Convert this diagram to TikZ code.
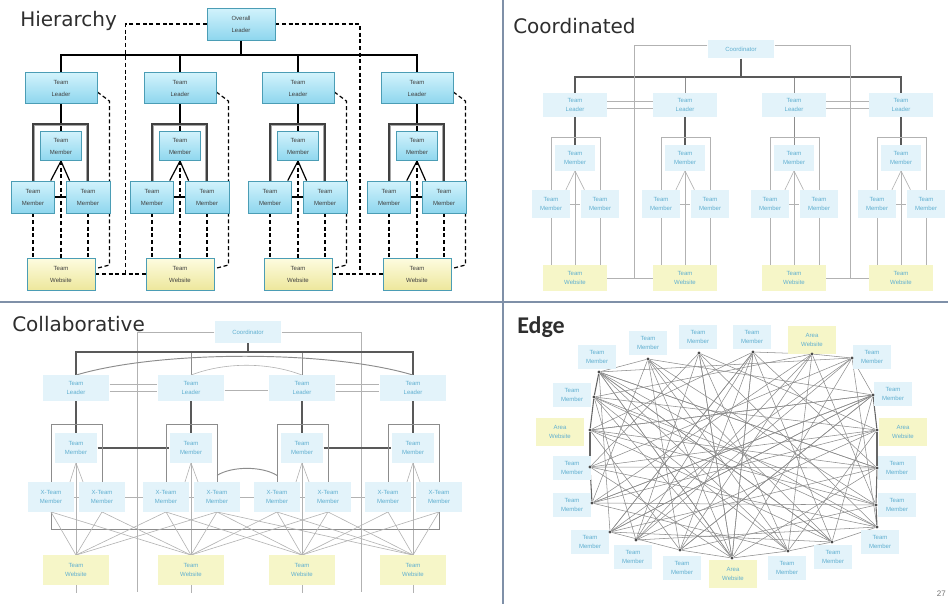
\documentclass[tikz,border=0pt]{standalone}
\usepackage{fontspec}
\setmainfont{Liberation Sans}
\newfontfamily\titlefont{DejaVu Sans}
\newfontfamily\edgefont{Carlito}
\usetikzlibrary{calc}
\pgfdeclarelayer{bg}
\pgfdeclarelayer{paper}
\pgfsetlayers{paper,bg,main}
\definecolor{hcA}{HTML}{D2F3FC}
\definecolor{hcB}{HTML}{8ED6EE}
\definecolor{hbord}{HTML}{4B9DB5}
\definecolor{hyA}{HTML}{FDFCE0}
\definecolor{hyB}{HTML}{EDE79C}
\definecolor{lfill}{HTML}{E3F3FA}
\definecolor{ltext}{HTML}{5FAFD0}
\definecolor{yfill}{HTML}{F6F6C8}
\definecolor{divc}{HTML}{7F90A8}
\definecolor{titc}{HTML}{2E2E2E}
\begin{document}
\begin{tikzpicture}[x=0.75pt,y=-0.75pt,
  hbox/.style={draw=hbord, line width=0.6pt, top color=hcA, bottom color=hcB, align=center, inner sep=0pt, font=\fontsize{4.5}{9}\selectfont, text=black!75},
  hweb/.style={hbox, top color=hyA, bottom color=hyB},
  hline/.style={black, line width=0.9pt},
  hdash/.style={black, line width=0.9pt, dash pattern=on 3pt off 2pt},
  hframe/.style={black!75, line width=1.5pt},
  hframein/.style={black!35, line width=0.7pt},
  lbox/.style={fill=lfill, draw=none, align=center, inner sep=0pt, text=ltext, font=\fontsize{4.5}{7}\selectfont},
  lweb/.style={lbox, fill=yfill},
  cdark/.style={black!65, line width=1pt},
  cmid/.style={black!45, line width=0.7pt},
  lthin/.style={black!30, line width=0.45pt},
  edot/.style={circle, fill=black!70, inner sep=0pt, minimum size=2.5pt},
  eline/.style={black!45, line width=0.4pt},
  ering/.style={black!60, line width=0.8pt},
  ttl/.style={anchor=base west, text=titc, font=\titlefont\fontsize{15}{15}\selectfont, inner sep=0pt},
  divider/.style={divc, line width=1.1pt}]
\useasboundingbox (0,0) rectangle (948,604);
\begin{pgfonlayer}{paper}
\fill[white] (0,0) rectangle (948,604);
\end{pgfonlayer}

% ---------- dividers
\draw[divider] (503,0) -- (503,604);
\draw[divider] (0,302) -- (948,302);

% ---------- titles
\node[ttl] (tH) at (20,26) {Hierarchy};
\node[ttl] (tC) at (513,33) {Coordinated};
\node[ttl] (tL) at (12,331) {Collaborative};
\node[anchor=base west, text=titc, font=\edgefont\bfseries\fontsize{18}{18}\selectfont, inner sep=0pt] (tE) at (517,333) {Edge};
\node[anchor=base east, text=black!55, font=\fontsize{6}{6}\selectfont, inner sep=0pt] (pg) at (946,596) {27};

% ================= HIERARCHY
\node[hbox, minimum width=51pt, minimum height=24pt] (hO) at (241,24) {Overall\\Leader};
\coordinate (hbar) at (241,55);
\foreach \i/\cx in {1/61,2/180,3/298,4/417} {
  \node[hbox, minimum width=54pt, minimum height=23pt] (hL\i) at (\cx,88) {Team\\Leader};
  \node[hbox, minimum width=31pt, minimum height=22pt] (hM\i) at (\cx,146) {Team\\Member};
  \node[hbox, minimum width=32pt, minimum height=24pt] (hA\i) at (\cx-28,197) {Team\\Member};
  \node[hbox, minimum width=33pt, minimum height=24pt] (hB\i) at (\cx+27,197) {Team\\Member};
  \node[hweb, minimum width=51pt, minimum height=24pt] (hW\i) at (\cx,274) {Team\\Website};
}
\begin{pgfonlayer}{bg}
\draw[hline] (hO.south) -- (hbar);
\foreach \i in {1,...,4} {
  \draw[hline] (hL\i.north) |- (hbar);
  \draw[hline] (hL\i.south) -- (hM\i.north);
  \draw[hframe] (hA\i.north) -- ++(0,-57) -| (hB\i.north);
  \draw[hframein] ([xshift=1.4pt]hA\i.north) -- ++(0,-55) -| ([xshift=-1.4pt]hB\i.north);
  \draw[hline] (hM\i.south) -- ([xshift=-3pt]hA\i.north east);
  \draw[hline] (hM\i.south) -- ([xshift=3pt]hB\i.north west);
  \draw[hline] (hA\i.east) -- (hB\i.west);
  \draw[hdash] (hA\i.south) -- (hA\i.south |- hW\i.north);
  \draw[hdash] (hB\i.south) -- (hB\i.south |- hW\i.north);
  \draw[hdash] (hM\i.south) -- (hW\i.north);
  \draw[hdash] ([yshift=-3pt]hL\i.east) -- ++(12,9) -- ++(0,164) -- ([yshift=4pt]hW\i.east);
}
\draw[hdash] (hO.west) -| ($(hW1.east)!0.6!(hW2.west)$);
\draw[hdash] (hW1.east) -- (hW2.west);
\draw[hdash] (hO.east) -| ($(hW3.east)!0.55!(hW4.west)$);
\draw[hdash] (hW3.east) -- (hW4.west);
\end{pgfonlayer}

% ================= COORDINATED
\node[lbox, minimum width=50pt, minimum height=14pt] (cC) at (741,49) {Coordinator};
\coordinate (cbar) at (741,77);
\foreach \i/\cx in {1/575,2/685,3/794,4/901} {
  \node[lbox, minimum width=48pt, minimum height=18pt] (cL\i) at (\cx,105) {Team\\Leader};
  \node[lbox, minimum width=30pt, minimum height=19pt] (cM\i) at (\cx,158) {Team\\Member};
  \node[lbox, minimum width=28pt, minimum height=21pt] (cA\i) at (\cx-24,204) {Team\\Member};
  \node[lbox, minimum width=29pt, minimum height=21pt] (cB\i) at (\cx+25,204) {Team\\Member};
  \node[lweb, minimum width=48pt, minimum height=19pt] (cW\i) at (\cx,278) {Team\\Website};
}
\begin{pgfonlayer}{bg}
\foreach \i in {2,3} \draw[cmid] (cL\i.north) |- (cbar);
\foreach \i in {1,4} \draw[cdark] (cL\i.north) |- (cbar);
\draw[cdark] (cC.south) -- (cbar);
\foreach \i in {1,2,4} \draw[cdark] (cL\i.south) -- (cM\i.north);
\draw[cmid] (cL3.south) -- (cM3.north);
\foreach \i in {1,...,4} {
  \draw[lthin] (cA\i.north) -- ++(0,-52) -| (cB\i.north);
  \draw[lthin] (cM\i.south) -- ([xshift=-3pt]cA\i.north east);
  \draw[lthin] (cM\i.south) -- ([xshift=3pt]cB\i.north west);
  \draw[lthin] (cA\i.east) -- (cB\i.west);
  \draw[lthin] (cA\i.south) -- (cA\i.south |- cW\i.north);
  \draw[lthin] (cB\i.south) -- (cB\i.south |- cW\i.north);
  \draw[lthin] (cM\i.south) -- (cW\i.north);
}
\draw[lthin] ([yshift=2.5pt]cL1.east) -- ([yshift=2.5pt]cL2.west);
\draw[lthin] ([yshift=-2.5pt]cL1.east) -- ([yshift=-2.5pt]cL2.west);
\draw[lthin] ([yshift=2.5pt]cL3.east) -- ([yshift=2.5pt]cL4.west);
\draw[lthin] ([yshift=-2.5pt]cL3.east) -- ([yshift=-2.5pt]cL4.west);
\draw[lthin] ([yshift=3pt]cC.west) -| ($(cW1.east)!0.6!(cW2.west)$);
\draw[lthin] (cW1.east) -- (cW2.west);
\draw[lthin] ([yshift=3pt]cC.east) -| ($(cW3.east)!0.56!(cW4.west)$);
\draw[lthin] (cW3.east) -- (cW4.west);
\end{pgfonlayer}

% ================= COLLABORATIVE
\node[lbox, minimum width=50pt, minimum height=16pt] (lC) at (248,332) {Coordinator};
\coordinate (lbar) at (248,352);
\coordinate (lE1) at (137,592);
\coordinate (lE2) at (361,592);
\foreach \i/\cx in {1/76,2/191,3/302,4/413} {
  \node[lbox, minimum width=50pt, minimum height=19pt] (lL\i) at (\cx,388) {Team\\Leader};
  \node[lbox, minimum width=32pt, minimum height=22pt] (lM\i) at (\cx,448) {Team\\Member};
  \node[lbox, minimum width=34pt, minimum height=22pt] (lA\i) at (\cx-25,497) {X-Team\\Member};
  \node[lbox, minimum width=34pt, minimum height=22pt] (lB\i) at (\cx+26,497) {X-Team\\Member};
  \node[lweb, minimum width=50pt, minimum height=22pt] (lW\i) at (\cx,570) {Team\\Website};
}
\begin{pgfonlayer}{bg}
\draw[lthin] (lC.west) -| (lE1);
\draw[lthin] (lC.east) -| (lE2);
\draw[cmid] (lL2.north) |- (lbar);
\draw[cmid] (lL3.north) |- (lbar);
\draw[cdark] (lL1.north) |- (lbar);
\draw[cdark] (lL4.north) |- (lbar);
\draw[cdark] (lC.south) -- (lbar);
\draw[cmid] (lL1.north) .. controls (160,350) and (330,350) .. (lL4.north);
\draw[lthin] (lL2.north) .. controls (225,362) and (268,362) .. (lL3.north);
\draw[lthin] ([yshift=3pt]lL1.east) -- ([yshift=3pt]lL2.west);
\draw[lthin] ([yshift=-2.5pt]lL1.east) -- ([yshift=-2.5pt]lL2.west);
\draw[lthin] ([yshift=-1.5pt]lL2.east) -- ([yshift=-1.5pt]lL3.west);
\draw[lthin] ([yshift=3pt]lL3.east) -- ([yshift=3pt]lL4.west);
\draw[lthin] ([yshift=-2.5pt]lL3.east) -- ([yshift=-2.5pt]lL4.west);
\draw[cdark] (lM1.east) -- (lM2.west);
\draw[cdark] (lM3.east) -- (lM4.west);
\draw[cmid] ([yshift=5pt]lB2.north) .. controls (232,466) and (262,466) .. ([yshift=5pt]lA3.north);
\foreach \i in {1,...,4} {
  \draw[cdark] (lL\i.south) -- (lM\i.north);
  \draw[cmid] (lA\i.north) -- ++(0,-58) -| (lB\i.north);
  \draw[lthin] (lM\i.south) -- ([xshift=-3pt]lA\i.north east);
  \draw[lthin] (lM\i.south) -- ([xshift=3pt]lB\i.north west);
  \draw[lthin] (lA\i.east) -- (lB\i.west);
  \draw[lthin] (lM\i.south) -- (lW\i.north);
  \draw[lthin] (lW\i.south) -- ++(0,8);
}
\foreach \a/\b in {1/2,2/3,3/4} \draw[lthin] (lB\a.east) -- (lA\b.west);
\draw[cmid] (lA1.south) -- ++(0,18) -| (lB4.south);
\foreach \w/\xs in {1/{A1,B1,A2,B2},2/{A1,B1,A2,B2,A3,B3},3/{A2,B2,A3,B3,A4,B4},4/{A3,B3,A4,B4,B2}} {
  \foreach \x in \xs \draw[lthin] (l\x.south) -- (lW\w.north);
}
\end{pgfonlayer}

% ================= EDGE
\foreach \i/\lx/\ly/\dx/\dy in {1/597/357/599/372, 2/648/343/648/359, 3/698/337/699/353, 4/752/337/753/352,
   6/872/357/852/358, 7/893/394/873/395, 9/897/468/877/468, 10/897/505/876/505, 11/880/542/877/527,
   12/833/557/832/542, 13/787/568/788/551, 15/682/568/680/550, 16/633/557/636/540, 17/590/542/610/532,
   18/572/505/592/503, 19/572/468/590/467, 21/572/395/594/397} {
  \node[lbox, minimum width=28.5pt, minimum height=18pt] (eN\i) at (\lx,\ly) {Team\\Member};
  \node[edot] (eD\i) at (\dx,\dy) {};
}
\foreach \i/\lx/\ly/\dx/\dy in {5/812/340/812/354, 8/903/432/877/430, 14/733/574/732/558, 20/560/432/590/430} {
  \node[lweb, minimum width=36pt, minimum height=21pt] (eN\i) at (\lx,\ly) {Area\\Website};
  \node[edot] (eD\i) at (\dx,\dy) {};
}
\begin{pgfonlayer}{bg}
\foreach \i in {1,...,21} {
  \foreach \k in {5,8,10} {
    \pgfmathtruncatemacro{\j}{mod(\i+\k-1,21)+1}
    \draw[eline] (eD\i) -- (eD\j);
  }
}
\foreach \a/\b in {1/2,4/5,5/6,6/7,17/15,15/14,14/13,13/12,12/11,1/13,1/14,1/12,1/9,4/14,4/16,4/17,7/15,7/17,7/18,7/20,14/3,14/2,14/21}
  \draw[eline] (eD\a) -- (eD\b);
\foreach \a/\b in {1/21,21/20,20/19,19/18,7/8,8/9,9/10,10/11}
  \draw[ering] (eD\a) -- (eD\b);
\end{pgfonlayer}
\end{tikzpicture}
\end{document}
